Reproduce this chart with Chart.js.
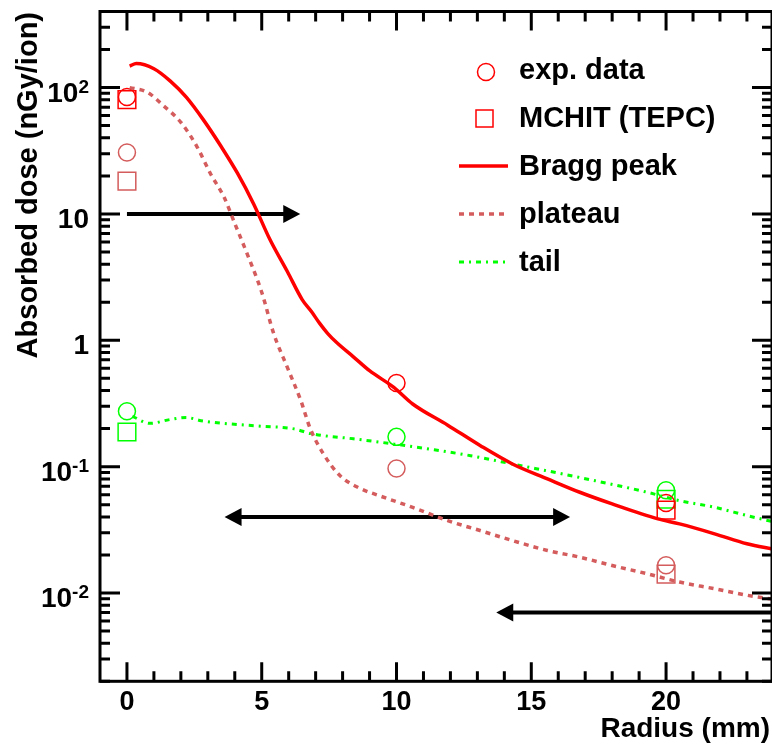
<!DOCTYPE html>
<html lang="en">
  <head>
    <style>
      body { margin: 0; background: #fff; }
      canvas { display: block; }
    </style>
  </head>
  <body>
    <canvas id="doseChart" width="772" height="744"></canvas>
    <script src="https://cdn.jsdelivr.net/npm/chart.js@4.4.0/dist/chart.umd.min.js"></script>
    <script>
      // simulated radial dose curves (mm, nGy/ion)
      var bragg_x = [0.1, 0.35, 1.0, 1.6, 2.2, 2.85, 3.5, 4.1, 4.7, 5.3, 5.95, 6.5, 6.85, 7.15, 7.45, 7.8, 8.4, 9.0, 9.9, 10.6, 11.9, 13.1, 14.3, 15.6, 16.8, 18.0, 19.7, 20.5, 21.8, 23.0, 24.0];
      var bragg_y = [148, 155, 141, 113, 84, 55, 34, 21, 12.0, 6.3, 3.5, 2.1, 1.68, 1.36, 1.13, 0.95, 0.74, 0.574, 0.424, 0.313, 0.213, 0.147, 0.105, 0.080, 0.0627, 0.0507, 0.0386, 0.0352, 0.0294, 0.0245, 0.0222];

      var plateau_x = [0.1, 0.75, 1.35, 2.0, 2.6, 3.1, 3.6, 4.0, 4.5, 5.0, 5.45, 5.95, 6.45, 6.8, 7.3, 7.9, 8.6, 9.4, 10.6, 11.9, 13.1, 14.3, 15.6, 16.8, 18.0, 19.3, 20.5, 21.8, 23.0, 24.0];
      var plateau_y = [100, 92, 72, 53, 34, 20.8, 13.6, 8.4, 4.6, 2.4, 1.12, 0.61, 0.333, 0.2, 0.125, 0.085, 0.068, 0.0585, 0.0476, 0.0374, 0.0312, 0.026, 0.0217, 0.0192, 0.0165, 0.0142, 0.0122, 0.0108, 0.0096, 0.0089];

      var tail_x = [0.2, 0.85, 1.6, 2.2, 2.75, 3.5, 4.95, 6.2, 6.8, 8.4, 9.9, 11.4, 12.75, 14.3, 16.8, 19.3, 20.5, 21.8, 23.0, 24.0];
      var tail_y = [0.25, 0.22, 0.236, 0.245, 0.231, 0.221, 0.209, 0.199, 0.183, 0.166, 0.151, 0.136, 0.122, 0.105, 0.082, 0.0627, 0.0538, 0.0477, 0.041, 0.0365];

      // measured points
      var exp_x = [0, 10, 20];
      var exp_bragg = [84.3, 0.459, 0.0515];
      var exp_plateau = [30.6, 0.0966, 0.0166];
      var exp_tail = [0.274, 0.172, 0.065];

      var mchit_x = [0, 20];
      var mchit_bragg = [80.4, 0.0452];
      var mchit_plateau = [18.2, 0.0141];
      var mchit_tail = [0.188, 0.0552];

      // arrows (y value, from x, to x, heads)
      var arrow_y = [10, 0.04, 0.007];
      var arrow_from = [0, 3.62, 24.5];
      var arrow_to = [6.43, 16.44, 13.7];
      var arrow_heads = ["end", "both", "end"];

      var x_ticks = [0, 5, 10, 15, 20];
      var y_ticks = [100, 10, 1, 0.1, 0.01];
      var y_tick_labels = [["10", "2"], ["10", ""], ["1", ""], ["10", "-1"], ["10", "-2"]];

      var legend_labels = ["exp. data", "MCHIT (TEPC)", "Bragg peak", "plateau", "tail"];

      var RED = "#ff0000";
      var PALE = "rgb(212,92,92)";
      var GREEN = "#00ff00";
      var FONT = "'Liberation Sans', Arial, Helvetica, sans-serif";

      function pts(xs, ys) {
        return xs.map(function (x, i) { return { x: x, y: ys[i] }; });
      }

      function curve(label, xs, ys, color, dash, width) {
        return {
          label: label,
          data: pts(xs, ys),
          showLine: true,
          borderColor: color,
          borderWidth: width,
          borderDash: dash,
          pointRadius: 0,
          cubicInterpolationMode: "monotone",
          fill: false,
        };
      }

      function markers(label, xs, ys, color, style, r) {
        return {
          label: label,
          data: pts(xs, ys),
          showLine: false,
          pointStyle: style,
          pointRadius: r,
          pointBorderWidth: 1.5,
          pointBorderColor: color,
          pointBackgroundColor: "rgba(0,0,0,0)",
          clip: false,
        };
      }

      function drawArrow(ctx, xa, xb, y, heads) {
        var hl = 17, hw = 9;
        var dir = xb > xa ? 1 : -1;
        var lineStart = heads === "both" ? xa + dir * hl * 0.5 : xa;
        var lineEnd = xb - dir * hl * 0.5;
        ctx.strokeStyle = "#000";
        ctx.fillStyle = "#000";
        ctx.lineWidth = 4;
        ctx.setLineDash([]);
        ctx.beginPath();
        ctx.moveTo(lineStart, y);
        ctx.lineTo(lineEnd, y);
        ctx.stroke();
        function head(tip, d) {
          ctx.beginPath();
          ctx.moveTo(tip, y);
          ctx.lineTo(tip - d * hl, y - hw);
          ctx.lineTo(tip - d * hl, y + hw);
          ctx.closePath();
          ctx.fill();
        }
        head(xb, dir);
        if (heads === "both") head(xa, -dir);
      }

      var rootFrame = {
        id: "rootFrame",
        beforeDatasetsDraw: function (chart) {
          var ctx = chart.ctx, xs = chart.scales.x, ys = chart.scales.y;
          ctx.save();
          for (var i = 0; i < arrow_y.length; i++) {
            drawArrow(ctx, xs.getPixelForValue(arrow_from[i]), xs.getPixelForValue(arrow_to[i]),
              ys.getPixelForValue(arrow_y[i]), arrow_heads[i]);
          }
          ctx.restore();
        },
        afterDraw: function (chart) {
          var ctx = chart.ctx, a = chart.chartArea;
          var xs = chart.scales.x, ys = chart.scales.y;
          ctx.save();
          ctx.strokeStyle = "#000";
          ctx.lineWidth = 3;
          ctx.setLineDash([]);
          ctx.strokeRect(a.left, a.top, a.right - a.left, a.bottom - a.top);

          // x ticks (inside, bottom and top)
          ctx.beginPath();
          for (var v = Math.ceil(xs.min); v <= xs.max; v++) {
            if (v === xs.min) continue;
            var px = xs.getPixelForValue(v);
            var len = v % 5 === 0 ? 19 : 10;
            ctx.moveTo(px, a.bottom); ctx.lineTo(px, a.bottom - len);
            ctx.moveTo(px, a.top); ctx.lineTo(px, a.top + len);
          }
          // y ticks (log, inside, left and right)
          for (var d = -3; d <= 2; d++) {
            for (var k = 1; k <= 9; k++) {
              var val = k * Math.pow(10, d);
              if (val < ys.min || val > ys.max) continue;
              var py = ys.getPixelForValue(val);
              var l2 = k === 1 ? 20 : 10;
              ctx.moveTo(a.left, py); ctx.lineTo(a.left + l2, py);
              ctx.moveTo(a.right, py); ctx.lineTo(a.right - l2, py);
            }
          }
          ctx.stroke();

          ctx.fillStyle = "#000";
          // x tick labels
          ctx.font = "bold 27px " + FONT;
          ctx.textAlign = "center";
          ctx.textBaseline = "alphabetic";
          x_ticks.forEach(function (t) {
            ctx.fillText(String(t), xs.getPixelForValue(t), 710);
          });
          // y tick labels with superscripts
          y_ticks.forEach(function (t, i) {
            var py = ys.getPixelForValue(t) + 14;
            var base = y_tick_labels[i][0], sup = y_tick_labels[i][1];
            var right = 89;
            ctx.textAlign = "right";
            if (sup) {
              ctx.font = "bold 19px " + FONT;
              var sw = ctx.measureText(sup).width;
              ctx.fillText(sup, right, py - 9);
              right -= sw;
            }
            ctx.font = "bold 28px " + FONT;
            ctx.fillText(base, right, py);
          });

          // axis titles
          ctx.font = "bold 28px " + FONT;
          ctx.textAlign = "right";
          ctx.fillText("Radius (mm)", 770, 737);
          ctx.save();
          ctx.font = "bold 29px " + FONT;
          ctx.translate(37, 12);
          ctx.rotate(-Math.PI / 2);
          ctx.textAlign = "right";
          ctx.fillText("Absorbed dose (nGy/ion)", 0, 0);
          ctx.restore();

          // legend
          var rows = [79, 127, 175, 223, 271];
          ctx.lineWidth = 1.5;
          ctx.strokeStyle = RED;
          ctx.beginPath();
          ctx.arc(486, 72, 8.5, 0, Math.PI * 2);
          ctx.stroke();
          ctx.strokeRect(476, 110, 17, 17);
          var lineStyles = [null, null, [RED, [], 3.5], [PALE, [5, 5], 3.5], [GREEN, [5, 5, 2, 5], 3]];
          for (var r = 2; r < 5; r++) {
            ctx.strokeStyle = lineStyles[r][0];
            ctx.setLineDash(lineStyles[r][1]);
            ctx.lineWidth = lineStyles[r][2];
            ctx.beginPath();
            ctx.moveTo(459, rows[r] - 9);
            ctx.lineTo(508, rows[r] - 9);
            ctx.stroke();
          }
          ctx.setLineDash([]);
          ctx.font = "bold 29px " + FONT;
          ctx.textAlign = "left";
          ctx.fillStyle = "#000";
          legend_labels.forEach(function (lab, i) {
            ctx.fillText(lab, 519, rows[i]);
          });
          ctx.restore();
        },
      };

      var ds_chart = new Chart(document.getElementById("doseChart"), {
        type: "scatter",
        data: {
          datasets: [
            curve("Bragg peak", bragg_x, bragg_y, RED, [], 3.5),
            curve("plateau", plateau_x, plateau_y, PALE, [5, 5], 3.5),
            curve("tail", tail_x, tail_y, GREEN, [5, 5, 2, 5], 3),
            markers("exp. data", exp_x, exp_bragg, RED, "circle", 8.5),
            markers("exp. data", exp_x, exp_plateau, PALE, "circle", 8.5),
            markers("exp. data", exp_x, exp_tail, GREEN, "circle", 8.5),
            markers("MCHIT (TEPC)", mchit_x, mchit_bragg, RED, "rect", 12.5),
            markers("MCHIT (TEPC)", mchit_x, mchit_plateau, PALE, "rect", 12.5),
            markers("MCHIT (TEPC)", mchit_x, mchit_tail, GREEN, "rect", 12.5),
          ],
        },
        options: {
          responsive: false,
          animation: false,
          devicePixelRatio: 1,
          layout: { autoPadding: false, padding: { left: 100, top: 11.5, right: 0, bottom: 62.7 } },
          scales: {
            x: { type: "linear", min: -1, max: 23.93, display: false },
            y: { type: "logarithmic", min: 0.002, max: 400, display: false },
          },
          plugins: {
            legend: { display: false },
            tooltip: { enabled: false },
          },
        },
        plugins: [rootFrame],
      });
    </script>
  </body>
</html>
